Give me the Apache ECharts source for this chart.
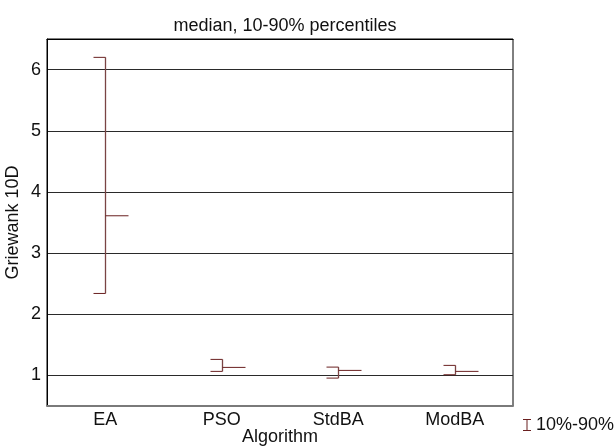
<!DOCTYPE html>
<html>
<head>
<meta charset="utf-8">
<script src="https://cdn.jsdelivr.net/npm/echarts@6/dist/echarts.min.js"></script>
<style>
  html, body { margin: 0; padding: 0; background: #fff; }
  #chart { width: 616px; height: 448px; }
</style>
</head>
<body>
<div id="chart"></div>
<script>
// Griewank 10D results per algorithm: median with 10th / 90th percentile range
const categories = ['EA', 'PSO', 'StdBA', 'ModBA'];
const p10 = [2.34, 1.066, 0.956, 1.011];
const p90 = [6.20, 1.262, 1.136, 1.164];
const medians = [3.61, 1.131, 1.082, 1.066];
const yTicks = [1, 2, 3, 4, 5, 6];

const FONT = "'Liberation Sans', Arial, Helvetica, sans-serif";
const FONT_SIZE = 18;
const BAR_COLOR = '#6a2020';

const data = categories.map((c, i) => [i, p10[i], p90[i], medians[i]]);

function renderRange(params, api) {
  const i = api.value(0);
  const lo = api.coord([i, api.value(1)]);
  const hi = api.coord([i, api.value(2)]);
  const md = api.coord([i, api.value(3)]);
  const x = Math.round(lo[0]) + 0.5;
  const capLen = 12;
  const medLen = 23;
  const style = { stroke: BAR_COLOR, lineWidth: 1, fill: null };
  return {
    type: 'group',
    children: [
      { type: 'line', shape: { x1: x, y1: hi[1], x2: x, y2: lo[1] }, style: { stroke: '#7a4444', lineWidth: 1.3, fill: null } },
      { type: 'line', shape: { x1: x - capLen, y1: hi[1], x2: x, y2: hi[1] }, style },
      { type: 'line', shape: { x1: x - capLen, y1: lo[1], x2: x, y2: lo[1] }, style },
      { type: 'line', shape: { x1: x, y1: md[1], x2: x + medLen, y2: md[1] }, style }
    ]
  };
}

const chart = echarts.init(document.getElementById('chart'), null, { renderer: 'canvas' });
chart.setOption({
  animation: false,
  backgroundColor: '#ffffff',
  textStyle: { fontFamily: FONT },
  title: {
    text: 'median, 10-90% percentiles',
    left: 280,
    textAlign: 'center',
    top: 12,
    textStyle: { fontFamily: FONT, fontSize: FONT_SIZE, fontWeight: 'normal', color: '#111' }
  },
  legend: {
    data: [{
      name: '10%-90%',
      icon: 'path://M0,0H8V1H4.5V11H8V12H0V11H3.5V1H0Z'
    }],
    left: 518,
    top: 411,
    itemWidth: 8,
    itemHeight: 12,
    itemGap: 0,
    selectedMode: false,
    textStyle: { fontFamily: FONT, fontSize: FONT_SIZE, color: '#111' }
  },
  grid: {
    left: 47, right: 103, top: 39, bottom: 42,
    show: true,
    borderColor: '#000',
    borderWidth: 1,
    containLabel: false,
    outerBoundsMode: 'none'
  },
  xAxis: [{
    type: 'category',
    data: categories,
    position: 'bottom',
    name: 'Algorithm',
    nameLocation: 'middle',
    nameGap: 22,
    nameMoveOverlap: false,
    nameTextStyle: { fontFamily: FONT, fontSize: FONT_SIZE, color: '#111' },
    axisLine: { lineStyle: { color: '#7a7a7a', width: 2 } },
    axisTick: { alignWithLabel: true, inside: true, length: 4, lineStyle: { color: '#333' } },
    axisLabel: { margin: 5, fontFamily: FONT, fontSize: FONT_SIZE, color: '#111' },
    splitLine: { show: false }
  }, {
    type: 'category',
    data: categories,
    position: 'top',
    axisLine: { lineStyle: { color: '#000', width: 1 } },
    axisTick: { alignWithLabel: true, inside: true, length: 4, lineStyle: { color: '#333' } },
    axisLabel: { show: false },
    splitLine: { show: false }
  }],
  yAxis: {
    type: 'value',
    name: 'Griewank 10D',
    nameLocation: 'middle',
    nameGap: 25,
    nameMoveOverlap: false,
    nameTextStyle: { fontFamily: FONT, fontSize: FONT_SIZE, color: '#111' },
    min: 0.5,
    max: 6.5,
    axisLine: { show: true, lineStyle: { color: '#000', width: 1 } },
    axisTick: { show: false, customValues: yTicks },
    axisLabel: { customValues: yTicks, margin: 6, fontFamily: FONT, fontSize: FONT_SIZE, color: '#111' },
    splitLine: { show: true, lineStyle: { color: '#2a2a2a', width: 1 } }
  },
  series: [{
    name: '10%-90%',
    type: 'custom',
    xAxisIndex: 0,
    itemStyle: { color: BAR_COLOR },
    renderItem: renderRange,
    encode: { x: 0, y: [1, 2, 3] },
    data: data
  }]
});
</script>
</body>
</html>
